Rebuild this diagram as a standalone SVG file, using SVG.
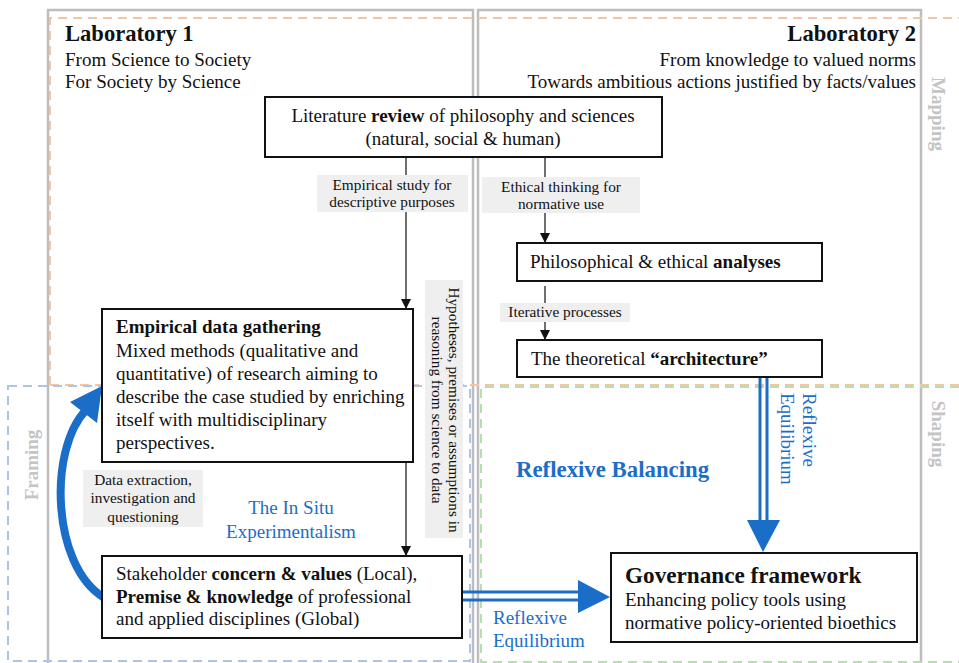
<svg xmlns="http://www.w3.org/2000/svg" width="959" height="663" viewBox="0 0 959 663">
<style>
text{font-family:"Liberation Serif","Times New Roman",serif;fill:#111}
.b{font-weight:bold}
.t17{font-size:19px}
.t14{font-size:15.3px}
.blue{fill:#1b6ec8}
.gray{fill:#c4c4c4;font-weight:bold;font-size:19px}
.box{fill:#fff;stroke:#111;stroke-width:2}
.lab{fill:#efefef}
.frame{fill:none;stroke:#bdbdbd;stroke-width:2.5}
.conn{stroke:#111;stroke-width:1.2;fill:none}
.dbl{stroke:#1b6ec8;stroke-width:3;fill:none}
</style>
<defs>
<marker id="ah" viewBox="0 0 10 10" refX="10" refY="5" markerWidth="10" markerHeight="10" markerUnits="userSpaceOnUse" orient="auto">
<path d="M0,0 L10,5 L0,10 z" fill="#111"/>
</marker>
</defs>
<rect width="959" height="663" fill="#fff"/>
<g id="regions">
<rect class="frame" x="48" y="10" width="425" height="670"/>
<rect class="frame" x="478" y="10" width="443" height="670"/>
<path d="M50,385 V18 H959" fill="none" stroke="#f7c4a2" stroke-width="2" stroke-dasharray="9,6"/>
<path d="M50,385 H959" fill="none" stroke="#f7c4a2" stroke-width="2" stroke-dasharray="9,6"/>
<rect x="8" y="386" width="462" height="275" fill="none" stroke="#a9c6ea" stroke-width="2" stroke-dasharray="9,6"/>
<path d="M959,387 H481 V662 H959" fill="none" stroke="#b5dfae" stroke-width="2" stroke-dasharray="9,6"/>
<text class="gray" transform="translate(932,114) rotate(90)" text-anchor="middle">Mapping</text>
<text class="gray" transform="translate(932,434) rotate(90)" text-anchor="middle">Shaping</text>
<text class="gray" transform="translate(38,465) rotate(-90)" text-anchor="middle">Framing</text>
</g>
<g id="lab1-title">
<text class="b" x="65" y="41" font-size="22.6">Laboratory 1</text>
<text x="65" y="66" font-size="19">From Science to Society</text>
<text x="65" y="88" font-size="19">For Society by Science</text>
</g>
<g id="lab2-title">
<text class="b" x="916" y="41" font-size="22.6" text-anchor="end">Laboratory 2</text>
<text x="916" y="66" font-size="19" text-anchor="end">From knowledge to valued norms</text>
<text x="916" y="88" font-size="19" text-anchor="end">Towards ambitious actions justified by facts/values</text>
</g>
<g id="connectors">
<line class="conn" x1="406" y1="157" x2="406" y2="309" marker-end="url(#ah)"/>
<line class="conn" x1="545" y1="157" x2="545" y2="243" marker-end="url(#ah)"/>
<line class="conn" x1="545" y1="286" x2="545" y2="340" marker-end="url(#ah)"/>
<line class="conn" x1="406" y1="462" x2="406" y2="556" marker-end="url(#ah)"/>
<path d="M103,597 C52,565 48,450 86,410" fill="none" stroke="#1b6ec8" stroke-width="8"/>
<polygon points="102,386 70,402 97,423" fill="#1b6ec8"/>
<line class="dbl" x1="760" y1="377" x2="760" y2="522"/>
<line class="dbl" x1="767" y1="377" x2="767" y2="522"/>
<polygon points="747,520 780,520 763,552" fill="#1b6ec8"/>
<line class="dbl" x1="462" y1="592" x2="580" y2="592"/>
<line class="dbl" x1="462" y1="600" x2="580" y2="600"/>
<polygon points="578,580 578,613 610,597" fill="#1b6ec8"/>
<rect class="lab" x="317" y="175" width="151" height="37"/>
<text class="t14" x="392" y="190" text-anchor="middle">Empirical study for</text>
<text class="t14" x="392" y="207" text-anchor="middle">descriptive purposes</text>
<rect class="lab" x="482" y="177" width="158" height="36"/>
<text class="t14" x="561" y="192" text-anchor="middle">Ethical thinking for</text>
<text class="t14" x="561" y="209" text-anchor="middle">normative use</text>
<rect class="lab" x="500" y="303" width="130" height="19"/>
<text class="t14" x="565" y="317" text-anchor="middle">Iterative processes</text>
<rect class="lab" x="425" y="280" width="38" height="258"/>
<text class="t14" transform="translate(449,410) rotate(90)" text-anchor="middle">Hypotheses, premises or assumptions in</text>
<text class="t14" transform="translate(432,410) rotate(90)" text-anchor="middle">reasoning from science to data</text>
<rect class="lab" x="83" y="470" width="120" height="57"/>
<text class="t14" x="143" y="485" text-anchor="middle">Data extraction,</text>
<text class="t14" x="143" y="503" text-anchor="middle">investigation and</text>
<text class="t14" x="143" y="522" text-anchor="middle">questioning</text>
<text class="blue" x="291" y="514" font-size="19" text-anchor="middle">The In Situ</text>
<text class="blue" x="291" y="538" font-size="19" text-anchor="middle">Experimentalism</text>
<text class="blue b" x="516" y="477" font-size="22.8">Reflexive Balancing</text>
<text class="blue t17" transform="translate(803,393) rotate(90)">Reflexive</text>
<text class="blue t17" transform="translate(781,393) rotate(90)">Equilibrium</text>
<text class="blue t17" x="493" y="624">Reflexive</text>
<text class="blue t17" x="493" y="647">Equilibrium</text>
</g>
<g id="literature-review">
<rect class="box" x="265" y="97" width="397" height="60"/>
<text class="t17" x="463" y="122" text-anchor="middle">Literature <tspan class="b">review</tspan> of philosophy and sciences</text>
<text class="t17" x="463" y="145" text-anchor="middle">(natural, social &amp; human)</text>
</g>
<g id="philosophical-analyses">
<rect class="box" x="517" y="243" width="305" height="38"/>
<text class="t17" x="530" y="268">Philosophical &amp; ethical <tspan class="b">analyses</tspan></text>
</g>
<g id="theoretical-architecture">
<rect class="box" x="517" y="340" width="305" height="37"/>
<text class="t17" x="531" y="365">The theoretical <tspan class="b">“architecture”</tspan></text>
</g>
<g id="empirical-data">
<rect class="box" x="102" y="309" width="311" height="153"/>
<text class="t17 b" x="116" y="333">Empirical data gathering</text>
<text class="t17" x="116" y="357">Mixed methods (qualitative and</text>
<text class="t17" x="116" y="380">quantitative) of research aiming to</text>
<text class="t17" x="116" y="403">describe the case studied by enriching</text>
<text class="t17" x="116" y="426">itself with multidisciplinary</text>
<text class="t17" x="116" y="449">perspectives.</text>
</g>
<g id="stakeholder">
<rect class="box" x="102" y="556" width="360" height="82"/>
<text class="t17" x="116" y="580">Stakeholder <tspan class="b">concern &amp; values</tspan> (Local),</text>
<text class="t17" x="116" y="603"><tspan class="b">Premise &amp; knowledge</tspan> of professional</text>
<text class="t17" x="116" y="625">and applied disciplines (Global)</text>
</g>
<g id="governance">
<rect class="box" x="611" y="553" width="306" height="89"/>
<text class="b" x="625" y="583" font-size="23.2">Governance framework</text>
<text class="t17" x="625" y="606">Enhancing policy tools using</text>
<text class="t17" x="625" y="629">normative policy-oriented bioethics</text>
</g>
</svg>
